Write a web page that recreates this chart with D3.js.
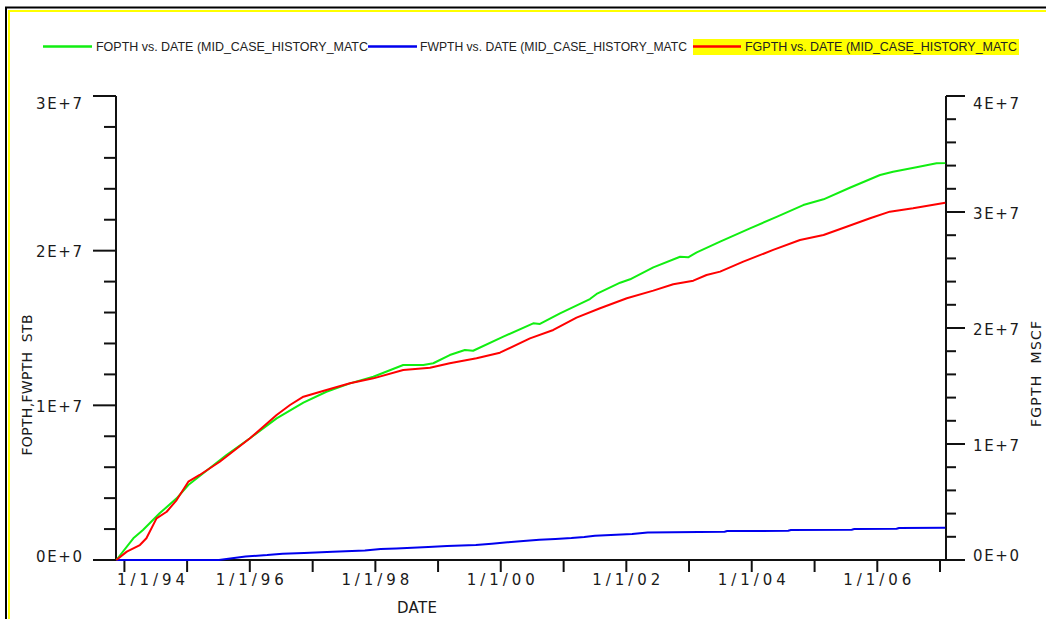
<!DOCTYPE html>
<html>
<head>
<meta charset="utf-8">
<script src="https://cdn.jsdelivr.net/npm/d3@7"></script>
<style>
  body { margin: 0; background: #fff; }
  svg { display: block; }
  .lbl { font-family: "DejaVu Sans", sans-serif; font-size: 15px; fill: #1a1a1a; }
  .title { font-size: 14px; }
  .legend text { font-family: "Liberation Sans", Arial, sans-serif; font-size: 12px; fill: #222; }
  .axis path, .axis line { stroke: #111; stroke-width: 2; }
</style>
</head>
<body>
<svg id="chart" width="1046" height="619"></svg>
<script>

// FOPTH, STB (left axis)
var fopthDates = ["1993-11-15","1994-02-22","1994-04-19","1994-07-25","1994-11-01","1995-01-08",
  "1995-05-12","1995-08-18","1996-01-02","1996-06-05","1996-11-08","1997-03-22","1997-08-06",
  "1997-12-20","1998-06-12","1998-10-07","1998-12-04","1999-03-10","1999-06-06","1999-07-24",
  "2000-01-16","2000-07-08","2000-08-16","2000-12-11","2001-06-03","2001-07-12","2001-11-26",
  "2002-01-23","2002-06-07","2002-11-10","2002-12-27","2003-02-15","2003-07-01","2003-12-22",
  "2004-05-25","2004-10-27","2005-02-22","2005-07-25","2006-01-17","2006-04-03","2006-08-17",
  "2006-12-12","2007-02-01"];
var fopthValues = [0, 1.40e6, 1.94e6, 3.02e6, 3.99e6, 4.85e6,
  5.93e6, 6.79e6, 7.87e6, 9.16e6, 10.17e6, 10.88e6, 11.42e6,
  11.85e6, 12.61e6, 12.61e6, 12.72e6, 13.25e6, 13.58e6, 13.53e6,
  14.44e6, 15.30e6, 15.26e6, 15.95e6, 16.87e6, 17.20e6, 17.93e6,
  18.15e6, 18.92e6, 19.61e6, 19.57e6, 19.89e6, 20.58e6, 21.44e6,
  22.19e6, 22.95e6, 23.32e6, 24.07e6, 24.89e6, 25.10e6, 25.39e6,
  25.65e6, 25.66e6];

// FWPTH, STB (left axis)
var fwpthDates = ["1993-11-15","1995-07-05","1995-12-07","1996-04-11","1996-07-10","1996-11-12",
  "1997-04-28","1997-11-01","1998-02-01","1998-05-03","1998-11-05","1999-02-22","1999-08-09",
  "1999-11-10","2000-02-10","2000-05-12","2000-08-13","2000-11-14","2001-02-15","2001-05-01",
  "2001-07-02","2001-11-03","2002-02-04","2002-05-05","2003-07-27","2003-08-11","2004-07-31",
  "2004-08-16","2005-08-05","2005-08-20","2006-04-23","2006-05-08","2007-02-01"];
var fwpthValues = [0, 0, 0.23e6, 0.32e6, 0.41e6, 0.45e6,
  0.54e6, 0.62e6, 0.71e6, 0.75e6, 0.84e6, 0.91e6, 0.97e6,
  1.05e6, 1.14e6, 1.23e6, 1.31e6, 1.36e6, 1.42e6, 1.49e6,
  1.57e6, 1.64e6, 1.68e6, 1.78e6, 1.83e6, 1.87e6, 1.89e6,
  1.94e6, 1.96e6, 2.00e6, 2.02e6, 2.07e6, 2.09e6];

// FGPTH, MSCF (right axis)
var fgpthDates = ["1993-11-15","1994-01-15","1994-04-01","1994-05-09","1994-07-07","1994-09-04",
  "1994-11-01","1995-01-08","1995-03-15","1995-07-10","1996-01-02","1996-06-05","1996-08-22",
  "1996-11-08","1997-03-22","1997-08-06","1997-12-20","1998-06-12","1998-11-15","1999-03-10",
  "1999-08-13","1999-12-27","2000-06-19","2000-11-02","2001-03-17","2001-08-01","2002-01-04",
  "2002-06-07","2002-10-01","2003-01-26","2003-04-13","2003-07-01","2003-11-13","2004-05-05",
  "2004-10-08","2005-02-22","2005-07-06","2005-11-20","2006-03-15","2006-07-28","2007-02-01"];
var fgpthValues = [0, 0.72e6, 1.29e6, 1.87e6, 3.59e6, 4.16e6,
  5.17e6, 6.75e6, 7.33e6, 8.47e6, 10.49e6, 12.50e6, 13.36e6,
  14.08e6, 14.66e6, 15.23e6, 15.66e6, 16.38e6, 16.58e6, 16.96e6,
  17.39e6, 17.87e6, 19.11e6, 19.83e6, 20.89e6, 21.70e6, 22.56e6,
  23.22e6, 23.77e6, 24.08e6, 24.57e6, 24.86e6, 25.72e6, 26.73e6,
  27.59e6, 28.02e6, 28.73e6, 29.46e6, 30.03e6, 30.32e6, 30.80e6];

var legendLabels = ["FOPTH vs. DATE (MID_CASE_HISTORY_MATC",
  "FWPTH vs. DATE (MID_CASE_HISTORY_MATC",
  "FGPTH vs. DATE (MID_CASE_HISTORY_MATC"];

var leftTickValues = [0, 1e7, 2e7, 3e7];
var leftTickLabels = ["0E+0", "1E+7", "2E+7", "3E+7"];
var rightTickValues = [0, 1e7, 2e7, 3e7, 4e7];
var rightTickLabels = ["0E+0", "1E+7", "2E+7", "3E+7", "4E+7"];
var xTickYears = [1994, 1995, 1996, 1997, 1998, 1999, 2000, 2001, 2002, 2003, 2004, 2005, 2006, 2007];
var xTickLabels = ["1/1/94", "", "1/1/96", "", "1/1/98", "", "1/1/00", "", "1/1/02", "", "1/1/04", "", "1/1/06", ""];

var parse = d3.timeParse("%Y-%m-%d");
var svg = d3.select("#chart");

var x = d3.scaleTime()
  .domain([new Date(1993, 10, 13), new Date(2007, 1, 5)])
  .range([116, 946]);
var yLeft = d3.scaleLinear().domain([0, 3e7]).range([560, 96]);
var yRight = d3.scaleLinear().domain([0, 4e7]).range([560, 96]);

// frame
svg.append("rect").attr("x", 6).attr("y", 7.5).attr("width", 1100).attr("height", 700)
  .attr("fill", "none").attr("stroke", "#000").attr("stroke-width", 2);
svg.append("rect").attr("x", 9).attr("y", 11).attr("width", 1100).attr("height", 700)
  .attr("fill", "none").attr("stroke", "#ffff00").attr("stroke-width", 2);

// legend
var series = [
  { name: legendLabels[0], color: "#11ee11", x0: 43, x1: 92, tx: 96, len: 272 },
  { name: legendLabels[1], color: "#0000ee", x0: 368, x1: 417, tx: 420, len: 267 },
  { name: legendLabels[2], color: "#ff0000", x0: 693, x1: 741, tx: 745, len: 272 }
];
var legend = svg.append("g").attr("class", "legend");
legend.append("rect").attr("x", 693).attr("y", 39).attr("width", 326).attr("height", 16)
  .attr("fill", "#ffff00");
series.forEach(function(s) {
  legend.append("line")
    .attr("x1", s.x0).attr("x2", s.x1).attr("y1", 46.5).attr("y2", 46.5)
    .attr("stroke", s.color).attr("stroke-width", 2.5);
  legend.append("text")
    .attr("x", s.tx).attr("y", 51)
    .attr("textLength", s.len).attr("lengthAdjust", "spacingAndGlyphs")
    .text(s.name);
});

// left axis
var leftMinor = d3.range(2e6, 3e7, 2e6).filter(function(v) { return v % 1e7 !== 0; });
svg.append("g").attr("class", "axis")
  .attr("transform", "translate(116,0)")
  .call(d3.axisLeft(yLeft).tickValues(leftMinor).tickFormat("").tickSize(12).tickSizeOuter(0).offset(0))
  .select(".domain").remove();
var gl = svg.append("g").attr("class", "axis")
  .attr("transform", "translate(116,0)")
  .call(d3.axisLeft(yLeft).tickValues(leftTickValues)
    .tickFormat(function(d, i) { return leftTickLabels[i]; })
    .tickSize(23).tickPadding(11).tickSizeOuter(0).offset(0));
gl.selectAll("text").attr("class", "lbl").attr("fill", null)
  .attr("font-family", null).attr("font-size", null)
  .attr("textLength", 46).attr("lengthAdjust", "spacing")
  .attr("dy", function(d) { return d === 3e7 ? "0.85em" : d === 0 ? "0.15em" : "0.42em"; });

// right axis
var rightMinor = d3.range(2e6, 4e7, 2e6).filter(function(v) { return v % 1e7 !== 0; });
svg.append("g").attr("class", "axis")
  .attr("transform", "translate(946,0)")
  .call(d3.axisRight(yRight).tickValues(rightMinor).tickFormat("").tickSize(10).tickSizeOuter(0).offset(0))
  .select(".domain").remove();
var gr = svg.append("g").attr("class", "axis")
  .attr("transform", "translate(946,0)")
  .call(d3.axisRight(yRight).tickValues(rightTickValues)
    .tickFormat(function(d, i) { return rightTickLabels[i]; })
    .tickSize(19).tickPadding(8).tickSizeOuter(0).offset(0));
gr.selectAll("text").attr("class", "lbl").attr("fill", null)
  .attr("font-family", null).attr("font-size", null)
  .attr("textLength", 46).attr("lengthAdjust", "spacing")
  .attr("dy", function(d) { return d === 4e7 ? "0.85em" : d === 0 ? "0.05em" : "0.45em"; });

// x axis
var xTicks = xTickYears.map(function(yr) { return new Date(yr, 0, 1); });
var gx = svg.append("g").attr("class", "axis")
  .attr("transform", "translate(0,560)")
  .call(d3.axisBottom(x).tickValues(xTicks)
    .tickFormat(function(d, i) { return xTickLabels[i]; })
    .tickSize(12).tickPadding(2).tickSizeOuter(0).offset(0));
gx.selectAll("text").attr("class", "lbl").attr("fill", null)
  .attr("font-family", null).attr("font-size", null)
  .attr("textLength", function(d, i) { return xTickLabels[i] ? 68 : null; })
  .attr("lengthAdjust", "spacing")
  .attr("x", function(d) {
    var left = x(d) - 34;
    return left < 117 ? 117 - left : 0;
  });

// axis titles
svg.append("text").attr("class", "lbl")
  .attr("x", 417).attr("y", 613).attr("text-anchor", "middle")
  .attr("textLength", 40).attr("lengthAdjust", "spacing")
  .text("DATE");
svg.append("text").attr("class", "lbl title")
  .attr("transform", "translate(27,385) rotate(-90)")
  .attr("text-anchor", "middle").attr("dy", "0.36em")
  .style("white-space", "pre")
  .attr("textLength", 141).attr("lengthAdjust", "spacing")
  .text("FOPTH,FWPTH  STB");
svg.append("text").attr("class", "lbl title")
  .attr("transform", "translate(1036,374) rotate(-90)")
  .attr("text-anchor", "middle").attr("dy", "0.36em")
  .style("white-space", "pre")
  .attr("textLength", 106).attr("lengthAdjust", "spacing")
  .text("FGPTH  MSCF");

// curves
function points(dates, values) {
  return dates.map(function(d, i) { return { date: parse(d), value: values[i] }; });
}

var lineLeft = d3.line()
  .x(function(d) { return x(d.date); })
  .y(function(d) { return yLeft(d.value); });
var lineRight = d3.line()
  .x(function(d) { return x(d.date); })
  .y(function(d) { return yRight(d.value); });

var plot = svg.append("g").attr("fill", "none").attr("stroke-width", 2).attr("stroke-linejoin", "round");

plot.append("path")
  .datum(points(fopthDates, fopthValues))
  .attr("stroke", series[0].color)
  .attr("d", lineLeft);

plot.append("path")
  .datum(points(fwpthDates, fwpthValues))
  .attr("stroke", series[1].color)
  .attr("d", lineLeft);

plot.append("path")
  .datum(points(fgpthDates, fgpthValues))
  .attr("stroke", series[2].color)
  .attr("d", lineRight);

</script>
</body>
</html>
